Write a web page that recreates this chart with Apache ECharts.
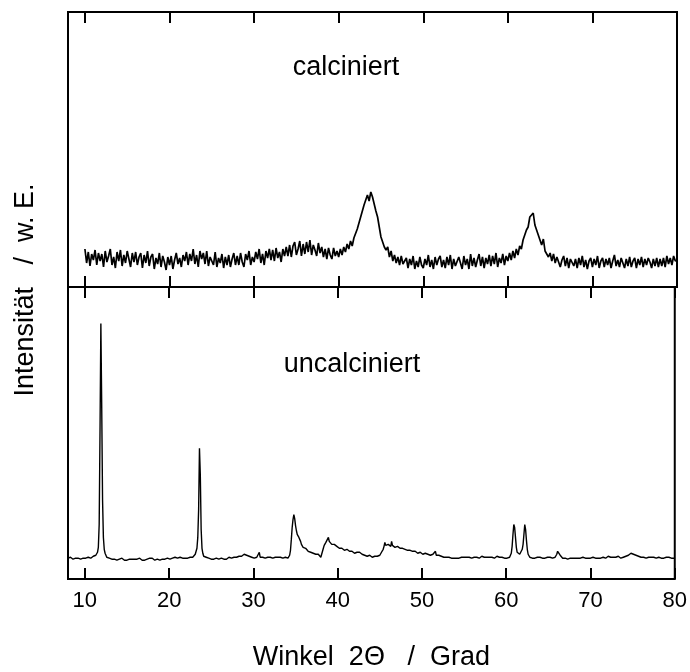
<!DOCTYPE html>
<html>
<head>
<meta charset="utf-8">
<script src="https://cdn.jsdelivr.net/npm/echarts@6/dist/echarts.min.js"></script>
<style>html,body{margin:0;padding:0;background:#fff}#c{width:690px;height:672px}</style>
</head>
<body>
<div id="c"></div>
<script>
// ---- data ----
const xTickValues = [10, 20, 30, 40, 50, 60, 70, 80];
const xTickLabels = ['10', '20', '30', '40', '50', '60', '70', '80'];
const panelLabels = ['calciniert', 'uncalciniert'];
const xTitle = 'Winkel  2\u0398   /  Grad';
const yTitle = 'Intensit\u00e4t   /  w. E.';

// calciniert: 2theta grid 10.0 .. 80.0, step 0.2
const calcStart = 10.0, calcStep = 0.2;
const calcIntensity = [
 38,24,35,21,33,27,37,22,34,26,
 33,20,36,25,31,38,22,30,19,35,
 26,37,21,32,24,36,28,20,34,25,
 35,22,30,34,19,32,24,36,21,30,
 33,18,29,23,34,20,31,25,17,30,
 22,31,18,27,34,23,29,20,32,26,
 35,22,33,26,38,23,32,20,36,28,
 34,23,36,21,30,32,22,35,20,29,
 24,33,19,30,22,32,20,28,34,22,
 31,22,34,25,20,33,27,36,22,30,
 25,35,28,38,24,33,22,36,29,38,
 27,37,26,39,29,35,25,38,31,40,
 31,42,30,41,45,32,38,46,31,43,
 33,45,35,47,32,42,37,31,44,34,
 40,30,38,28,39,32,28,39,31,36,
 30,38,32,40,35,43,38,46,41,49,
 48,58,60,70,72,82,80,92,86,95,
 90,88,76,70,72,50,48,40,37,40,
 30,36,26,32,24,30,22,31,23,21,
 29,19,28,22,31,18,26,20,30,22,
 19,28,22,32,20,27,18,30,22,28,
 31,20,27,19,30,22,32,18,28,21,
 20,30,24,18,31,22,28,18,33,21,
 29,20,27,33,21,30,19,29,23,32,
 21,31,23,34,20,29,24,33,22,31,
 26,34,27,36,29,38,32,41,38,47,
 46,57,60,70,72,74,62,63,52,52,
 42,48,36,38,30,34,26,33,24,30,
 30,20,27,31,21,29,19,28,30,21,
 28,19,29,22,31,20,27,18,26,29,
 20,28,22,31,19,26,29,20,28,22,
 29,19,26,32,21,27,20,29,24,19,
 28,21,30,20,26,29,19,28,22,30,
 20,28,22,29,25,19,28,21,29,20,
 28,21,29,20,31,23,29,22,31,26,
 27
];

// uncalciniert: 2theta grid 8.0 .. 80.0, step 0.1
const uncStart = 8.0, uncStep = 0.1;
const uncIntensity = [
 21,20,21,22,20,21,20,21,22,21,
 20,21,21,22,21,20,21,22,21,21,
 22,21,22,21,22,23,22,21,22,23,
 23,22,23,24,25,27,32,55,150,258,
 175,80,42,30,26,24,22,21,20,21,
 20,19,20,21,19,20,21,20,19,20,
 21,20,19,20,21,20,20,19,21,20,
 19,20,21,20,19,20,20,21,19,20,
 20,21,20,19,20,21,20,20,19,21,
 20,19,20,21,20,20,19,21,20,20,
 21,20,20,19,20,21,20,21,20,19,
 20,21,20,20,21,20,19,20,21,20,
 21,20,21,20,21,21,20,22,21,20,
 21,20,21,22,21,20,21,21,22,21,
 21,22,21,22,21,22,23,22,22,23,
 24,25,27,31,42,70,132,105,50,31,
 26,23,22,21,22,21,20,21,22,21,
 20,21,21,20,21,22,21,20,21,20,
 21,20,21,22,21,20,21,21,20,21,
 21,22,21,20,21,22,21,22,21,22,
 22,21,22,23,22,24,23,25,24,25,
 24,25,24,23,24,23,22,23,22,21,
 22,21,22,21,22,21,22,27,22,21,
 21,22,21,22,21,20,21,22,21,22,
 22,21,22,21,22,21,22,21,22,22,
 21,22,22,21,22,21,22,21,22,22,
 22,21,22,24,29,40,52,60,65,61,
 54,49,45,46,42,44,38,35,33,32,
 31,30,31,29,30,28,29,28,27,28,
 27,26,27,26,25,26,24,25,24,23,
 22,24,28,31,34,36,37,36,38,42,
 38,36,37,35,36,34,35,33,34,33,
 32,33,31,32,30,31,30,31,29,30,
 29,30,28,29,28,29,27,28,27,28,
 26,27,26,27,25,26,27,25,26,25,
 24,25,24,25,24,23,24,23,24,23,
 23,22,23,22,23,22,22,23,22,23,
 24,25,27,28,30,33,37,34,35,34,
 35,34,35,33,38,34,33,34,32,33,
 32,33,31,32,31,32,30,31,30,31,
 30,29,30,29,29,28,29,28,29,28,
 28,27,28,27,27,26,27,26,27,26,
 26,25,26,25,26,25,24,25,24,25,
 24,25,24,25,24,24,28,24,23,24,
 24,23,24,23,24,23,22,23,23,22,
 23,22,22,23,22,21,22,22,21,22,
 22,21,22,22,21,22,21,22,22,21,
 22,22,21,22,21,22,22,21,22,21,
 22,21,22,22,21,22,23,22,21,22,
 22,23,22,21,22,22,23,22,21,22,
 22,22,21,22,23,22,21,22,22,23,
 22,21,22,22,21,22,23,22,21,22,
 22,21,22,21,22,23,26,33,45,55,
 52,42,32,27,26,25,25,25,27,30,
 35,45,55,50,39,30,25,23,22,22,
 22,21,22,22,21,22,21,22,22,21,
 22,21,22,21,22,22,21,22,21,22,
 21,22,22,21,22,21,22,23,22,23,
 25,28,30,27,24,23,22,21,22,21,
 21,22,21,20,21,22,21,21,20,21,
 21,20,21,21,22,21,20,21,21,20,
 21,22,21,20,21,21,22,21,20,21,
 21,20,21,22,21,20,21,21,22,21,
 22,21,21,22,21,22,23,22,21,22,
 22,23,22,21,22,23,22,22,23,22,
 22,21,22,23,22,22,21,22,23,22,
 23,22,23,24,23,24,25,24,26,25,
 26,25,26,25,24,25,24,23,24,23,
 22,23,22,22,23,22,21,22,23,22,
 22,21,22,22,21,22,23,22,21,22,
 21,22,21,22,21,21,22,21,22,21,
 22,21,21,22,21,22,21,21,22,21,
 21
];

// ---- chart ----
const FONT = '"Liberation Sans", Arial, Helvetica, sans-serif';
const toPairs = (start, step, ys) => ys.map((v, i) => [+(start + i * step).toFixed(2), v]);

const chart = echarts.init(document.getElementById('c'), null, {renderer: 'canvas'});

function xAxisDef(gridIndex, position, showLabels) {
  return {
    type: 'value', gridIndex: gridIndex, position: position,
    min: 8, max: 80,
    axisLine: {show: false},
    splitLine: {show: false},
    axisTick: {show: true, inside: true, length: 11, customValues: xTickValues,
               lineStyle: {color: '#000', width: 2}},
    axisLabel: {show: showLabels, customValues: xTickValues, color: '#000',
                fontSize: 22, fontFamily: FONT, margin: 11,
                formatter: v => xTickLabels[xTickValues.indexOf(v)] ?? String(v)}
  };
}

const option = {
  animation: false,
  backgroundColor: '#fff',
  grid: [
    {left: 68, right: 13, top: 12, height: 275, show: true, borderColor: '#000', borderWidth: 2, backgroundColor: 'transparent'},
    {left: 68, right: 13, top: 287, height: 295, show: true, borderColor: '#000', borderWidth: 2, backgroundColor: 'transparent'}
  ],
  xAxis: [
    xAxisDef(0, 'bottom', false),
    xAxisDef(0, 'top', false),
    Object.assign(xAxisDef(1, 'bottom', true), {
      name: xTitle, nameLocation: 'middle', nameGap: 65,
      nameTextStyle: {color: '#000', fontSize: 27, fontFamily: FONT}
    }),
    xAxisDef(1, 'top', false)
  ],
  yAxis: [
    {type: 'value', gridIndex: 0, min: 0, max: 275, axisLine: {show: false}, axisTick: {show: false}, axisLabel: {show: false}, splitLine: {show: false}},
    {type: 'value', gridIndex: 1, min: 0, max: 295, axisLine: {show: false}, axisTick: {show: false}, axisLabel: {show: false}, splitLine: {show: false}}
  ],
  series: [
    {name: panelLabels[0], type: 'line', xAxisIndex: 0, yAxisIndex: 0, showSymbol: false, symbol: 'none',
     data: toPairs(calcStart, calcStep, calcIntensity),
     lineStyle: {color: '#000', width: 1.7}},
    {name: panelLabels[1], type: 'line', xAxisIndex: 2, yAxisIndex: 1, showSymbol: false, symbol: 'none',
     data: toPairs(uncStart, uncStep, uncIntensity),
     lineStyle: {color: '#000', width: 1.4}}
  ],
  graphic: [
    {type: 'text', x: 346, y: 68, style: {text: panelLabels[0], font: '27px ' + FONT, fill: '#000', textAlign: 'center', textVerticalAlign: 'middle'}},
    {type: 'text', x: 352, y: 365, style: {text: panelLabels[1], font: '27px ' + FONT, fill: '#000', textAlign: 'center', textVerticalAlign: 'middle'}},
    {type: 'text', x: 26, y: 290, rotation: Math.PI / 2, style: {text: yTitle, font: '27px ' + FONT, fill: '#000', textAlign: 'center', textVerticalAlign: 'middle'}}
  ]
};
chart.setOption(option);
</script>
</body>
</html>
